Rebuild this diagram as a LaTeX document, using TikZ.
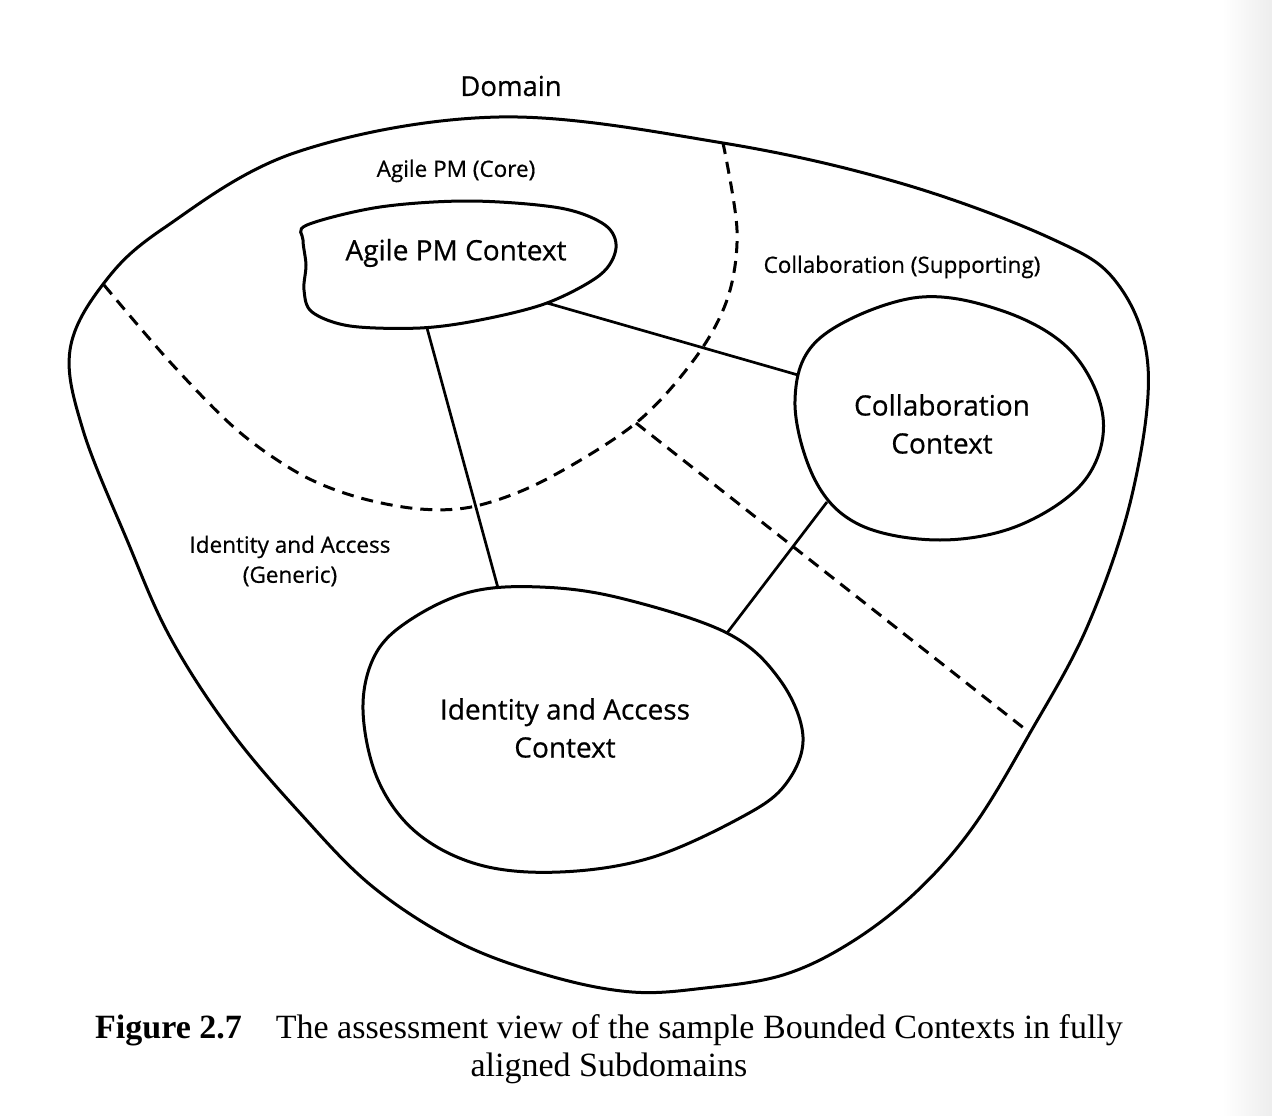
\documentclass[tikz,border=0pt]{standalone}
\usepackage{fontspec}
\setmainfont{Liberation Serif}
\newfontfamily\hand[FakeBold=0.6]{Open Sans}
\begin{document}
\begin{tikzpicture}[x=1pt,y=-1pt,
  outline/.style={line width=3pt, line join=round},
  bound/.style={line width=3pt, dash pattern=on 12pt off 8pt},
  link/.style={line width=2.7pt},
  ctx/.style={font=\hand\fontsize{28}{38}\selectfont, align=center, inner sep=0pt},
  sub/.style={font=\hand\fontsize{22.5}{30}\selectfont, align=center, inner sep=0pt},
  captext/.style={font=\fontsize{34}{38}\selectfont, align=center, inner sep=0pt}]
\useasboundingbox (0,0) rectangle (1272,1116);
\shade[left color=white,right color=black!7] (1222,0) rectangle (1272,1116);

% domain outline
\draw[outline] plot[smooth cycle, tension=0.6] coordinates {
  (70,350) (104,283) (164,228) (297,152) (499,117) (723,143) (900,183)
  (1050,238) (1117,283) (1148,367) (1132,495) (1088,625) (1030,733)
  (973,827) (915,893) (850,943) (783,975) (705,988) (632,992) (550,976)
  (460,943) (373,887) (300,813) (230,730) (170,637) (127,540) (83,430)};

% subdomain boundaries
\draw[bound] plot[smooth, tension=0.55] coordinates {
  (104,285) (170,362) (237,430) (300,474) (357,497) (420,509) (476,506)
  (545,480) (636,423) (696,357) (728,297) (737,230) (723,143)};
\coordinate (split) at (636,423);
\coordinate (splitEnd) at (1030,733);
\draw[bound] (split) -- (splitEnd);

% bounded contexts
\draw[outline] plot[smooth cycle, tension=0.55] coordinates {
  (307,225) (380,207) (470,201) (560,208) (605,225) (616,248) (600,275)
  (547,303) (480,320) (420,328) (350,326) (312,312) (304,290) (306,265)
  (303,240)};
\draw[outline] plot[smooth cycle, tension=0.6] coordinates {
  (795,400) (820,338) (913,298) (1000,310) (1070,350) (1103,417)
  (1085,480) (1020,525) (940,540) (860,525) (815,480)};
\draw[outline] plot[smooth cycle, tension=0.6] coordinates {
  (363,710) (375,655) (410,620) (470,592) (540,587) (620,598) (727,633)
  (780,680) (803,737) (785,785) (740,818) (650,858) (560,872) (480,865)
  (417,833) (378,780)};

% labels
\node[sub, font=\hand\fontsize{27.5}{30}\selectfont] (domain) at (511,86) {Domain};
\node[sub] (coreL) at (456,171) {Agile PM (Core)};
\node[sub] (suppL) at (902,267) {Collaboration (Supporting)};
\node[sub] (genL) at (290,561) {Identity and Access\\(Generic)};
\node[ctx] (agile) at (456,253) {Agile PM Context};
\node[ctx] (collab) at (942,424) {Collaboration\\Context};
\node[ctx] (ident) at (565,728) {Identity and Access\\Context};

% connector ends on the context outlines
\coordinate (agileS) at (427,328);
\coordinate (agileE) at (547,303);
\coordinate (collabW) at (798,375);
\coordinate (collabSW) at (827,502);
\coordinate (identN) at (498,588);
\coordinate (identNE) at (727,633);
\draw[link] (agileS) -- (identN);
\draw[link] (agileE) -- (collabW);
\draw[link] (collabSW) -- (identNE);

\node[captext] (caption) at (609,1049) {\textbf{Figure 2.7}\quad The assessment view of the sample Bounded Contexts in fully\\aligned Subdomains};
\end{tikzpicture}
\end{document}
